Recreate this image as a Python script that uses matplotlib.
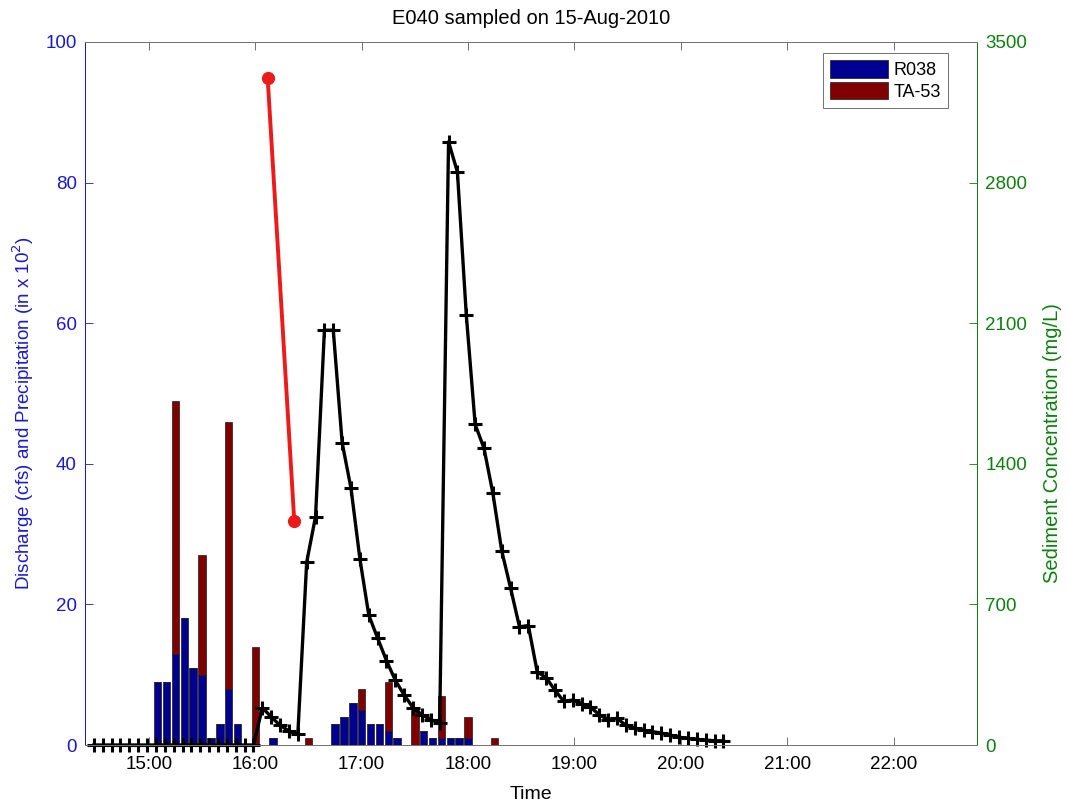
import datetime as dt
import matplotlib
matplotlib.use("Agg")
import matplotlib.pyplot as plt
import matplotlib.dates as mdates

plt.rcParams['font.family'] = ['Liberation Sans', 'DejaVu Sans']

DAY = dt.date(2010, 8, 15)

def t(hhmm):
    h, m = hhmm.split(":")
    return dt.datetime.combine(DAY, dt.time(int(h), int(m)))

# Precipitation (in x 10^2) per 5-minute interval
precip_times = ["15:05", "15:10", "15:15", "15:20", "15:25", "15:30", "15:35", "15:40",
                "15:45", "15:50", "16:00", "16:10", "16:30", "16:45", "16:50", "16:55",
                "17:00", "17:05", "17:10", "17:15", "17:20", "17:30", "17:35", "17:40",
                "17:45", "17:50", "17:55", "18:00", "18:15"]
r038 = [9, 9, 13, 18, 11, 10, 1, 3, 8, 3, 0, 1, 0, 3, 4, 6,
        5, 3, 3, 2, 1, 0, 2, 1, 1, 1, 1, 1, 0]
ta53 = [0, 0, 36, 0, 0, 17, 0, 0, 38, 0, 14, 0, 1, 0, 0, 0,
        3, 0, 0, 7, 0, 5, 0, 0, 6, 0, 0, 3, 1]

# Discharge (cfs) at E040
q_start = "14:29"
q_step_min = 5
discharge = [0] * 19 + [
    5.3, 4.0, 2.8, 2.0, 1.5, 26.0, 32.5, 59.0, 59.0, 43.0,
    36.5, 26.5, 18.5, 15.2, 12.0, 9.2, 7.1, 5.3, 4.3, 3.6,
    3.2, 85.8, 81.5, 61.2, 45.6, 42.2, 35.8, 27.6, 22.3, 16.8,
    17.0, 10.4, 9.6, 7.8, 6.2, 6.4, 5.9, 5.4, 4.3, 3.6,
    3.8, 2.8, 2.4, 2.1, 1.9, 1.7, 1.4, 1.1, 0.95, 0.8,
    0.7, 0.6, 0.6]

# Sediment concentration (mg/L) of the samples
sample_times = ["16:07", "16:22"]
sediment = [3320, 1115]

x_start, x_end = t("14:24"), t("22:47")

BLUE = (0, 0, 0.5625)
DRED = (0.5, 0, 0)
AXBLUE = (0.1, 0.1, 0.8)
AXGREEN = (0.05, 0.5, 0.05)
FS = 13.5

fig = plt.figure(figsize=(10.68, 8.07), dpi=100)
ax1 = fig.add_axes([0.0796, 0.0768, 0.8352, 0.8712])
ax2 = ax1.twinx()

pt = [t(s) for s in precip_times]
width = dt.timedelta(minutes=4.2)
ax1.bar(pt, r038, width=width, color=BLUE, edgecolor=(0.1, 0.1, 0.1),
        linewidth=0.5, label="R038", zorder=2)
ax1.bar(pt, ta53, width=width, bottom=r038, color=DRED, edgecolor=(0.1, 0.1, 0.1),
        linewidth=0.5, label="TA-53", zorder=2)

q0 = t(q_start)
qt = [q0 + dt.timedelta(minutes=q_step_min * i) for i in range(len(discharge))]
ax1.plot(qt, discharge, color="black", linewidth=2.4, marker="+",
         markersize=10, markeredgewidth=2.2, zorder=3, clip_on=False)

ax2.plot([t(s) for s in sample_times], sediment, color=(0.93, 0.1, 0.1),
         linewidth=2.8, marker="o", markersize=8.5, zorder=3)

ax1.set_xlim(x_start, x_end)
ax1.set_ylim(0, 100)
ax2.set_ylim(0, 3500)
ax1.set_yticks(range(0, 101, 20))
ax2.set_yticks(range(0, 3501, 700))

ax1.xaxis.set_major_locator(mdates.HourLocator(byhour=range(15, 23)))
ax1.xaxis.set_major_formatter(mdates.DateFormatter("%H:%M"))

ax1.tick_params(axis="x", direction="in", top=True, length=6, width=0.6,
                color=(0.35, 0.35, 0.35), labelsize=FS, pad=8)
ax1.tick_params(axis="y", direction="in", length=6, width=0.6, color=AXBLUE,
                labelcolor=AXBLUE, labelsize=FS, pad=6)
ax2.tick_params(axis="y", direction="in", length=6, width=0.6, color=AXGREEN,
                labelcolor=AXGREEN, labelsize=FS, pad=6)

for ax in (ax1, ax2):
    ax.spines["top"].set_color((0.45, 0.45, 0.45))
    ax.spines["bottom"].set_color((0.45, 0.45, 0.45))
    ax.spines["left"].set_color(AXBLUE)
    ax.spines["right"].set_color(AXGREEN)
    for s in ax.spines.values():
        s.set_linewidth(0.7)

ax1.set_ylabel("Discharge (cfs) and Precipitation (in x 10$^2$)", color=AXBLUE,
               fontsize=13.5)
ax1.yaxis.set_label_coords(-0.055, 0.472)
ax2.set_ylabel("Sediment Concentration (mg/L)", color=AXGREEN, fontsize=14.5)
ax2.yaxis.set_label_coords(1.074, 0.43)
ax1.set_xlabel("Time", fontsize=14, labelpad=9)
ax1.set_title("E040 sampled on 15-Aug-2010", fontsize=14.5, pad=13)

handles, labels = ax1.get_legend_handles_labels()
leg = ax2.legend(handles, labels, loc="upper right", bbox_to_anchor=(0.968, 0.985),
                 fontsize=13, frameon=True, fancybox=False, edgecolor=(0.3, 0.3, 0.3),
                 handlelength=3.2, handleheight=1.15, borderpad=0.4, labelspacing=0.15,
                 handletextpad=0.35, borderaxespad=0.0)
leg.get_frame().set_linewidth(0.7)

fig.savefig("out.png", dpi=100)
